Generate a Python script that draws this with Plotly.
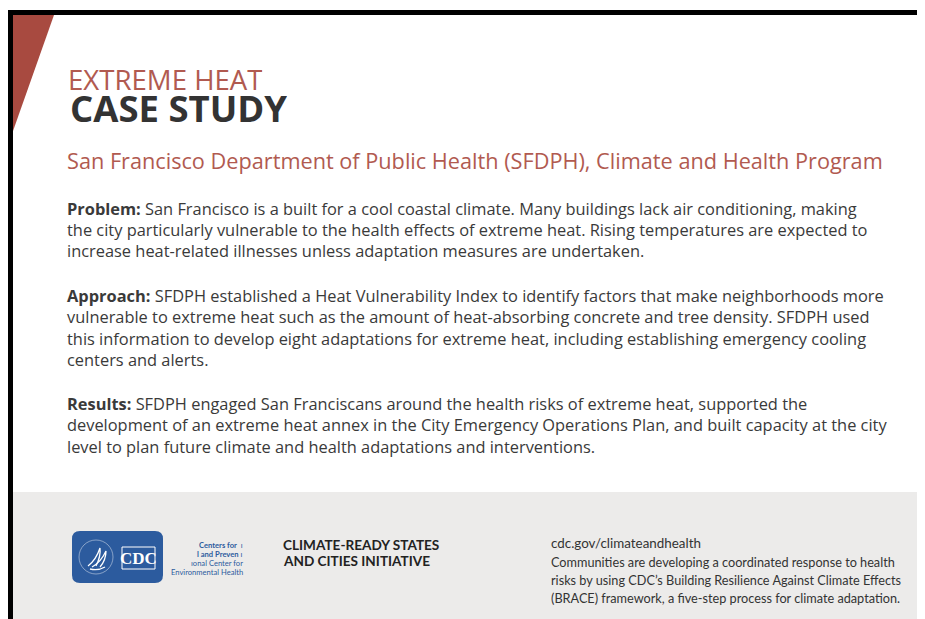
import plotly.graph_objects as go

W, H = 925, 619
OFF = 8  # page body margin in the browser

# ---- text content ----
kicker = "EXTREME HEAT"
title = "CASE STUDY"
subtitle = "San Francisco Department of Public Health (SFDPH), Climate and Health Program"

problem_lines = [
    "<b>Problem:</b> San Francisco is a built for a cool coastal climate. Many buildings lack air conditioning, making",
    "the city particularly vulnerable to the health effects of extreme heat. Rising temperatures are expected to",
    "increase heat-related illnesses unless adaptation measures are undertaken.",
]
approach_lines = [
    "<b>Approach:</b> SFDPH established a Heat Vulnerability Index to identify factors that make neighborhoods more",
    "vulnerable to extreme heat such as the amount of heat-absorbing concrete and tree density. SFDPH used",
    "this information to develop eight adaptations for extreme heat, including establishing emergency cooling",
    "centers and alerts.",
]
results_lines = [
    "<b>Results:</b> SFDPH engaged San Franciscans around the health risks of extreme heat, supported the",
    "development of an extreme heat annex in the City Emergency Operations Plan, and built capacity at the city",
    "level to plan future climate and health adaptations and interventions.",
]
para_line_y = [
    [208, 229, 250],
    [295, 316, 338, 359],
    [403, 424, 446],
]

initiative_lines = ["CLIMATE-READY STATES", "AND CITIES INITIATIVE"]
footer_url = "cdc.gov/climateandhealth"
footer_lines = [
    "Communities are developing a coordinated response to health",
    "risks by using CDC\u2019s Building Resilience Against Climate Effects",
    "(BRACE) framework, a five-step process for climate adaptation.",
]
logo_lines = ["<b>Centers for</b>  \u0131", "<b>l and Preven</b> \u0131", "\u0131onal Center for", "Environmental Health"]

RED = "#a84a40"
RED_TXT = "#b15a50"
DARK = "#333333"
BODY = "#3a3a3a"
GREY_BG = "#ecebea"
CDC_BLUE = "#2c5b9e"

BODY_FONT = "Open Sans"
FOOT_FONT = "Lato"

fig = go.Figure()

shapes = []
# footer band
shapes.append(dict(type="rect", x0=13, x1=917, y0=492, y1=H + 20, fillcolor=GREY_BG, line_width=0, layer="below"))
# red triangle
shapes.append(dict(type="path", path="M 13 15 L 54 15 L 13 131 Z", fillcolor=RED, line_width=0))
# black frame (top, left, right)
shapes.append(dict(type="rect", x0=8, x1=923, y0=10, y1=15, fillcolor="black", line_width=0))
shapes.append(dict(type="rect", x0=8, x1=13, y0=10, y1=H + 20, fillcolor="black", line_width=0))
shapes.append(dict(type="rect", x0=917, x1=923, y0=10, y1=H + 20, fillcolor="black", line_width=0))

# CDC logo
shapes.append(dict(type="path",
                   path="M 80 531 L 155 531 Q 163 531 163 539 L 163 575 Q 163 583 155 583 L 80 583 Q 72 583 72 575 L 72 539 Q 72 531 80 531 Z",
                   fillcolor=CDC_BLUE, line_width=0))
shapes.append(dict(type="circle", x0=79, x1=113, y0=540, y1=574, line=dict(color="rgba(255,255,255,0.55)", width=0.8)))
# stylised eagle strokes
shapes.append(dict(type="path", path="M 88 566 Q 96 560 100 548 Q 101 556 96 566", line=dict(color="white", width=1.3)))
shapes.append(dict(type="path", path="M 92 567 Q 101 562 106 551 Q 106 560 100 567", line=dict(color="white", width=1.3)))
shapes.append(dict(type="path", path="M 90 569 Q 98 571 105 567", line=dict(color="white", width=1.3)))
shapes.append(dict(type="rect", x0=122, x1=155, y0=547, y1=569, line=dict(color="white", width=1), fillcolor=CDC_BLUE))

fig.update_layout(shapes=shapes)

ann = []


def add(text, x, y, size, color, family=BODY_FONT, xanchor="left", weight=None, height=None):
    f = dict(size=size, color=color, family=family)
    if weight is not None:
        f["weight"] = weight
    a = dict(text=text, x=x, y=y, xref="x", yref="y", xanchor=xanchor, yanchor="middle",
             showarrow=False, font=f, align="left")
    if height is not None:
        a["height"] = height
    ann.append(a)


add(kicker, 66, 79, 27.6, RED_TXT, weight=400, height=22)
add("<b>" + title + "</b>", 68, 108, 36.5, DARK, weight=800, height=30)
add(subtitle, 65, 160, 21.7, RED_TXT)

for lines, ys in zip([problem_lines, approach_lines, results_lines], para_line_y):
    for t, y in zip(lines, ys):
        add(t, 65, y, 16.4, BODY)

# footer
add("<b>CDC</b>", 138.5, 558, 17, "white", family="Liberation Serif", xanchor="center")
logo_y = [545, 554, 563, 572]
for t, y in zip(logo_lines, logo_y):
    add(t, 245, y, 7.6, CDC_BLUE, family=FOOT_FONT, xanchor="right")

for t, y in zip(initiative_lines, [545, 561]):
    add("<b>" + t + "</b>", 281, y, 13.6, "#222222", family=FOOT_FONT)

add(footer_url, 549, 543, 13.4, DARK, family=FOOT_FONT)
for t, y in zip(footer_lines, [562, 580, 598]):
    add(t, 549, y, 12.7, DARK, family=FOOT_FONT)

fig.update_layout(
    annotations=ann,
    width=W, height=H,
    margin=dict(l=0, r=0, t=0, b=0),
    paper_bgcolor="white", plot_bgcolor="white",
    xaxis=dict(range=[OFF, W + OFF], visible=False, fixedrange=True),
    yaxis=dict(range=[H + OFF, OFF], visible=False, fixedrange=True),
    showlegend=False,
)

fig.write_html("out.html")
